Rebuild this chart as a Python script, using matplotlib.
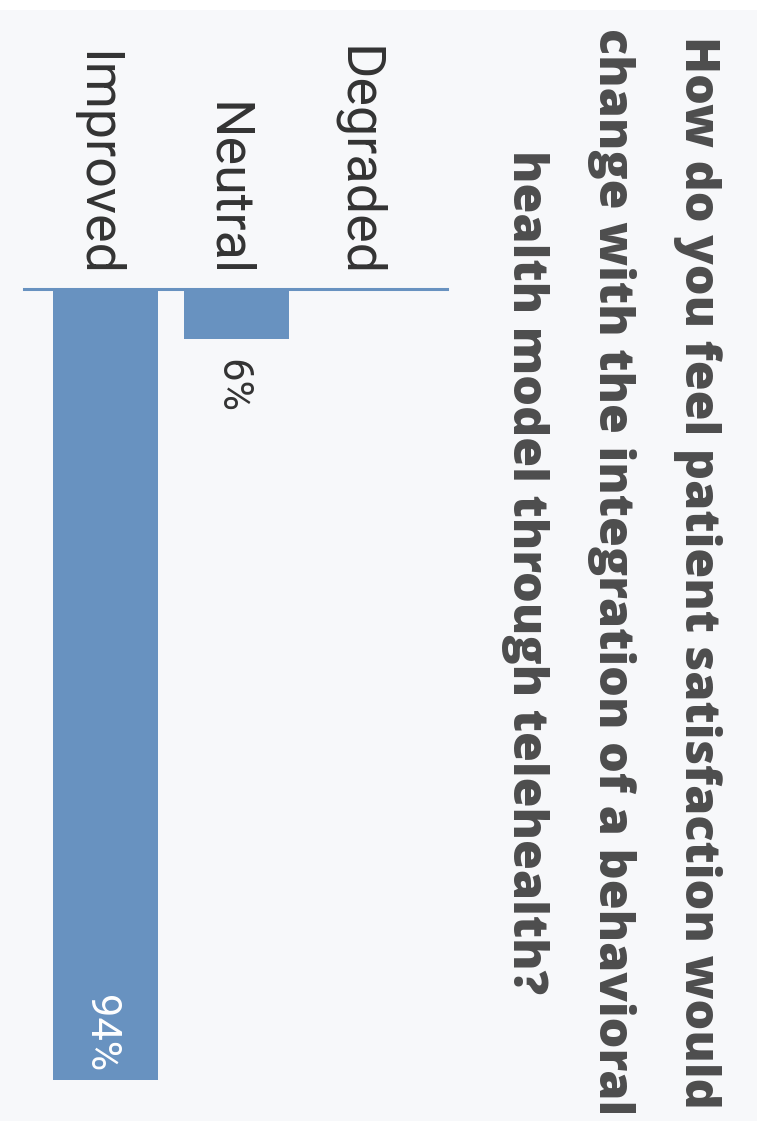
import matplotlib
matplotlib.use("Agg")
import matplotlib.pyplot as plt
from matplotlib.patches import Rectangle

# survey results (chart is drawn rotated 90 degrees clockwise)
categories = ['Improved', 'Neutral', 'Degraded']
values = [94, 6, 0]
title_lines = ['How do you feel patient satisfaction would',
               'change with the integration of a behavioral',
               'health model through telehealth?']

bar_color = '#6892c0'
bg_color = '#f7f8fa'
W, H = 764, 1121

fig = plt.figure(figsize=(W / 100, H / 100), dpi=100, facecolor='white')
fig.patches.append(Rectangle((0, 0), 757 / W, (H - 10) / H, transform=fig.transFigure,
                             facecolor=bg_color, edgecolor='none', zorder=-10))

# axes placed in pixel terms: baseline at y=289, spans x 24..447
ax = fig.add_axes([24 / W, (H - 1110) / H, 423 / W, (1110 - 289) / H])
ax.set_facecolor('none')
pos = list(range(len(categories)))
ax.bar(pos, values, width=0.8, color=bar_color, zorder=2)
ax.set_xlim(-0.62, 2.61)
ax.set_ylim(97.6, 0)
ax.axhline(0, color=bar_color, lw=2.2, clip_on=False, zorder=3)
ax.axis('off')

# category labels above the baseline, reading top to bottom
for p, name in zip(pos, categories):
    ax.annotate(name, (p, 0), xytext=(-24, 12), textcoords='offset pixels',
                rotation=270, rotation_mode='anchor', ha='right', va='baseline',
                fontsize=38.8, family='Roboto', color='#333333', annotation_clip=False)

# value labels
for p, v in zip(pos, values):
    if v == 0:
        continue
    if v > 50:
        ax.annotate(f'{v}%', (p, v), xytext=(-16, 8), textcoords='offset pixels',
                    rotation=270, rotation_mode='anchor', ha='right', va='baseline',
                    fontsize=30, family='Roboto', color='white')
    else:
        ax.annotate(f'{v}%', (p, v), xytext=(-16, -20), textcoords='offset pixels',
                    rotation=270, rotation_mode='anchor', ha='left', va='baseline',
                    fontsize=30, family='Roboto', color='#333333')

# title, one text per line
for xb, line in zip([685, 599, 513], title_lines):
    fig.text(xb / W, (H - 572) / H, line, rotation=270, rotation_mode='anchor',
             ha='center', va='baseline', fontsize=34.8, family='Open Sans',
             fontweight=800, color='#4d4d4d')

fig.savefig('out.png', dpi=100, facecolor=fig.get_facecolor())
